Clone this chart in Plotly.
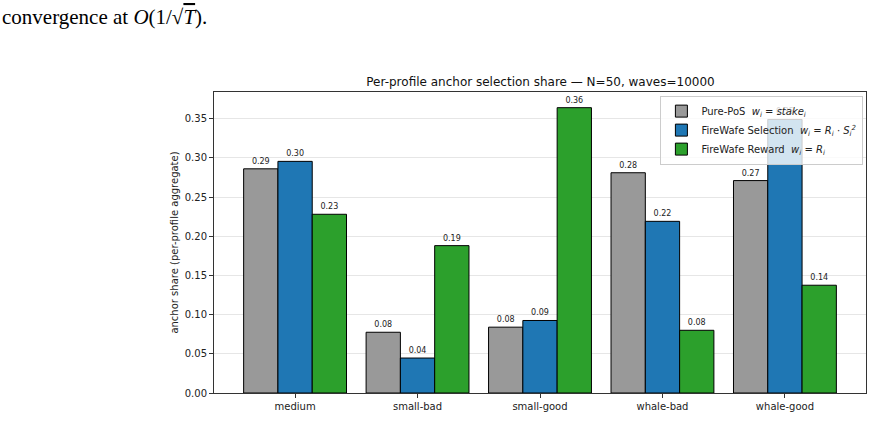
import plotly.graph_objects as go

categories = ["medium", "small-bad", "small-good", "whale-bad", "whale-good"]
pure_pos = [0.286, 0.0775, 0.084, 0.281, 0.271]
fw_selection = [0.2955, 0.0446, 0.0925, 0.219, 0.349]
fw_reward = [0.228, 0.188, 0.364, 0.080, 0.1375]
series_names = [
    "Pure-PoS  <i>w<sub>i</sub></i> = <i>stake<sub>i</sub></i>",
    "FireWafe Selection  <i>w<sub>i</sub></i> = <i>R<sub>i</sub></i> · <i>S<sub>i</sub><sup>2</sup></i>",
    "FireWafe Reward  <i>w<sub>i</sub></i> = <i>R<sub>i</sub></i>",
]
colors = ["#999999", "#1f77b4", "#2ca02c"]

W, H = 877, 422
L, R, T, B = 214, 867, 92, 399
pw, ph = R - L, B - T

fig = go.Figure()
for name, vals, c in zip(series_names, [pure_pos, fw_selection, fw_reward], colors):
    fig.add_trace(go.Bar(
        x=categories, y=vals, name=name,
        marker=dict(color=c, line=dict(color="black", width=1)),
        text=[f"{v:.2f}" for v in vals], textposition="outside",
        textfont=dict(size=8, color="#222", family="DejaVu Sans"),
        cliponaxis=False, textangle=0,
    ))

fig.update_layout(
    width=W, height=H,
    margin=dict(l=L, r=W - R, t=T, b=H - B, pad=0),
    paper_bgcolor="white", plot_bgcolor="white",
    barmode="group", bargap=0.16, bargroupgap=0,
    font=dict(family="DejaVu Sans", size=10, color="#222"),
    title=dict(text="Per-profile anchor selection share — N=50, waves=10000",
               x=(L + R) / 2 / W, xanchor="center", y=1 - 82 / H, yanchor="middle",
               font=dict(size=12, color="#111")),
    legend=dict(x=0.996, xanchor="right", y=0.988, yanchor="top",
                bgcolor="rgba(255,255,255,0.8)", bordercolor="#cccccc", borderwidth=1,
                font=dict(size=10, color="#222"), tracegroupgap=0,
                itemwidth=30),
    showlegend=True,
)
fig.update_xaxes(range=[-0.662, 4.662], showline=True, linecolor="#333", linewidth=1,
                 mirror=True, ticks="outside", ticklen=4, tickcolor="#333",
                 showgrid=False, tickfont=dict(size=10))
fig.update_yaxes(range=[0, 0.384], dtick=0.05, tickformat=".2f", showline=True,
                 linecolor="#333", linewidth=1, mirror=True, ticks="outside",
                 ticklen=4, tickcolor="#333", showgrid=True, gridcolor="#e6e6e6",
                 zeroline=False, tickfont=dict(size=10),
                 title=dict(text="anchor share (per-profile aggregate)", font=dict(size=10),
                            standoff=4))

fig.add_annotation(
    xref="paper", yref="paper", x=(0 - L) / pw, y=(B - 15) / ph,
    xanchor="left", yanchor="middle", showarrow=False,
    text="convergence at <i>O</i>(1/√<span style='text-decoration:overline'><i>T</i></span>).",
    font=dict(family="Liberation Serif", size=21, color="black"),
)

fig.write_html("out.html")
